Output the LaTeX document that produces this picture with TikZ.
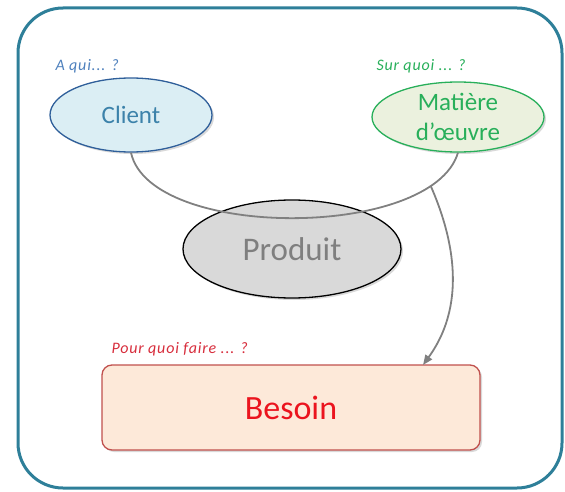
\documentclass[tikz,border=0pt]{standalone}
\usepackage{fontspec}
\setmainfont{Carlito}
\usetikzlibrary{shapes.geometric,arrows.meta,shadows}

\definecolor{frameteal}{RGB}{46,127,153}
\definecolor{clientfill}{RGB}{219,238,244}
\definecolor{clientline}{RGB}{47,95,154}
\definecolor{clienttext}{RGB}{60,130,170}
\definecolor{matfill}{RGB}{235,241,222}
\definecolor{matline}{RGB}{40,175,90}
\definecolor{mattext}{RGB}{40,175,90}
\definecolor{prodfill}{RGB}{217,217,217}
\definecolor{prodtext}{RGB}{127,127,127}
\definecolor{besfill}{RGB}{253,233,217}
\definecolor{besline}{RGB}{192,80,77}
\definecolor{bestext}{RGB}{235,20,30}
\definecolor{linkgrey}{RGB}{128,128,128}
\definecolor{askblue}{RGB}{79,129,189}
\definecolor{askred}{RGB}{215,45,60}

\tikzset{
  softshadow/.style={drop shadow={shadow xshift=2pt,shadow yshift=-2pt,opacity=0.25,fill=black!60}},
  bubble/.style={ellipse,line width=1.3pt,inner sep=0pt,align=center,softshadow},
  question/.style={font=\itshape\fontsize{16}{18}\selectfont\addfontfeature{LetterSpace=5},anchor=west},
  link/.style={draw=linkgrey,line width=1.8pt},
}

\begin{document}
\begin{tikzpicture}[x=1pt,y=-1pt]
  \useasboundingbox (0,0) rectangle (565,492);

  % outer frame
  \draw[frameteal,line width=3pt,rounded corners=45pt] (18,8) rectangle (562,488);

  % the three ellipses
  \node[bubble,draw=clientline,fill=clientfill,minimum width=162pt,minimum height=74pt,
        text=clienttext,font=\fontsize{25}{30}\selectfont] (client) at (131,115) {Client};
  \node[bubble,draw=matline,fill=matfill,minimum width=172pt,minimum height=70pt,
        text=mattext,font=\fontsize{25}{30}\selectfont] (matiere) at (458,117) {Matière\\d’œuvre};
  \node[bubble,draw=black,fill=prodfill,minimum width=218pt,minimum height=98pt,
        text=prodtext,font=\fontsize{33}{38}\selectfont] (produit) at (292,249) {Produit};

  % the need box
  \node[draw=besline,fill=besfill,line width=1.3pt,rounded corners=10pt,
        minimum width=378pt,minimum height=85pt,softshadow,
        text=bestext,font=\fontsize{34}{40}\selectfont] (besoin) at (291,407.5) {Besoin};

  % question labels
  \node[question,text=askblue] (qclient) at (52,66) {A qui... ?};
  \node[question,text=mattext] (qmat) at (373,66) {Sur quoi ... ?};
  \node[question,text=askred] (qbes) at (108,349) {Pour quoi faire ... ?};

  % link joining client and raw material, passing over the product
  \draw[link] (client.south) .. controls (150,240) and (432,240)
      .. coordinate[pos=0.85] (fork) (matiere.south);

  % arrow from the link down to the need
  \coordinate (tip) at (423,365);
  \draw[link,-{Triangle[length=10pt,width=8pt]}] (fork) .. controls (450,230) and (470,300) .. (tip);
\end{tikzpicture}
\end{document}
